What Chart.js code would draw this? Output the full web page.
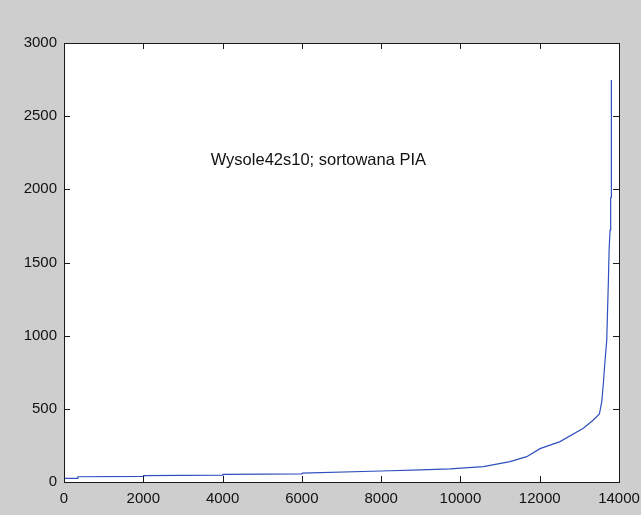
<!DOCTYPE html>
<html>
<head>
<meta charset="utf-8">
<script src="https://cdn.jsdelivr.net/npm/chart.js@4"></script>
<style>
  html, body { margin: 0; padding: 0; background: #cecece; }
  canvas { display: block; }
</style>
</head>
<body>
<canvas id="wykres" width="641" height="515"></canvas>
<script>
// posortowane wartosci PIA
const xValues = [0, 340, 350, 2000, 2010, 4000, 4010, 6000, 6010, 8000, 9000, 9738, 10578, 11251, 11672, 12008, 12513, 13100, 13353, 13506, 13565, 13606, 13649, 13691, 13733, 13750, 13775, 13790, 13800, 13808];
const yValues = [25, 25, 36, 38, 43, 47, 52, 56, 61, 75, 83, 90, 105, 139, 173, 228, 276, 367, 424, 465, 549, 675, 834, 971, 1381, 1586, 1722, 1941, 1945, 2748];

const xTicks = [0, 2000, 4000, 6000, 8000, 10000, 12000, 14000];
const yTicks = [0, 500, 1000, 1500, 2000, 2500, 3000];

const tytul = "Wysole42s10; sortowana PIA";
const tytulPoz = [3700, 2200];

const punkty = xValues.map((x, i) => ({ x: x, y: yValues[i] }));

const tloPlugin = {
  id: "tlo",
  beforeDraw(chart) {
    const ctx = chart.ctx;
    const a = chart.chartArea;
    ctx.save();
    ctx.fillStyle = "#cecece";
    ctx.fillRect(0, 0, chart.width, chart.height);
    ctx.fillStyle = "#ffffff";
    ctx.fillRect(a.left, a.top, a.right - a.left, a.bottom - a.top);
    ctx.restore();
  },
  afterDraw(chart) {
    const ctx = chart.ctx;
    const a = chart.chartArea;
    const sx = chart.scales.x;
    const sy = chart.scales.y;
    const t = 6;
    ctx.save();
    ctx.strokeStyle = "#1a1a1a";
    ctx.lineWidth = 1;
    ctx.beginPath();
    xTicks.forEach(v => {
      const px = Math.round(sx.getPixelForValue(v)) + 0.5;
      ctx.moveTo(px, a.bottom);
      ctx.lineTo(px, a.bottom - t);
      ctx.moveTo(px, a.top);
      ctx.lineTo(px, a.top + t);
    });
    yTicks.forEach(v => {
      const py = Math.round(sy.getPixelForValue(v)) + 0.5;
      ctx.moveTo(a.left, py);
      ctx.lineTo(a.left + t, py);
      ctx.moveTo(a.right, py);
      ctx.lineTo(a.right - t, py);
    });
    ctx.stroke();
    ctx.strokeRect(Math.round(a.left) + 0.5, Math.round(a.top) + 0.5,
      Math.round(a.right - a.left), Math.round(a.bottom - a.top));

    ctx.fillStyle = "#111111";
    ctx.font = "16.5px 'Liberation Sans', Arial, sans-serif";
    ctx.textAlign = "left";
    ctx.textBaseline = "middle";
    ctx.fillText(tytul, sx.getPixelForValue(tytulPoz[0]), sy.getPixelForValue(tytulPoz[1]));
    ctx.restore();
  }
};

const fontOsi = { family: "'Liberation Sans', Arial, sans-serif", size: 15 };

new Chart(document.getElementById("wykres"), {
  type: "line",
  data: {
    datasets: [{
      data: punkty,
      borderColor: "#3050c0",
      borderWidth: 1.2,
      pointRadius: 0,
      tension: 0,
      fill: false
    }]
  },
  options: {
    responsive: false,
    devicePixelRatio: 1,
    animation: false,
    layout: {
      padding: { left: 0, top: 43, right: 22, bottom: 0 }
    },
    plugins: {
      legend: { display: false },
      tooltip: { enabled: false }
    },
    scales: {
      x: {
        type: "linear",
        min: 0,
        max: 14000,
        afterBuildTicks: s => { s.ticks = xTicks.map(v => ({ value: v })); },
        afterFit: s => { s.height = 33; },
        grid: { display: false },
        border: { display: false },
        ticks: {
          color: "#111111",
          padding: 0,
          maxRotation: 0,
          autoSkip: false,
          font: fontOsi,
          callback: v => String(v)
        }
      },
      y: {
        type: "linear",
        min: 0,
        max: 3000,
        afterBuildTicks: s => { s.ticks = yTicks.map(v => ({ value: v })); },
        afterFit: s => { s.width = 64; },
        grid: { display: false },
        border: { display: false },
        ticks: {
          color: "#111111",
          padding: -1,
          autoSkip: false,
          font: fontOsi,
          callback: v => String(v)
        }
      }
    }
  },
  plugins: [tloPlugin]
});
</script>
</body>
</html>
